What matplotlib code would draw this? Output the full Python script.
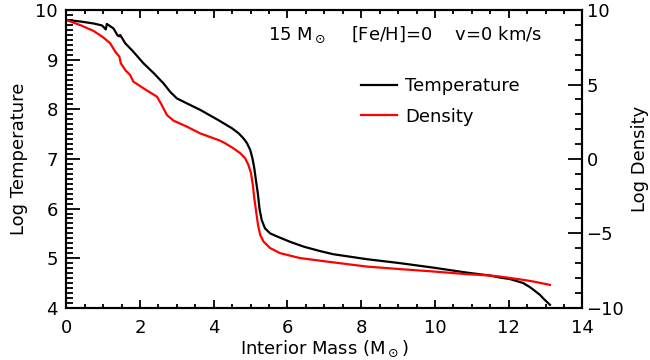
import matplotlib
matplotlib.use("Agg")
import matplotlib.pyplot as plt
from matplotlib.ticker import MultipleLocator

# temperature profile (log T vs interior mass)
mass_t = [0.00, 0.38, 0.74, 0.97, 1.07, 1.10, 1.28, 1.39, 1.44, 1.46, 1.60, 1.82,
          2.09, 2.37, 2.64, 2.82, 3.00, 3.27, 3.63, 4.13, 4.31, 4.49, 4.67, 4.80,
          4.90, 4.99, 5.05, 5.10, 5.15, 5.20, 5.24, 5.30, 5.39, 5.53, 5.71, 6.07,
          6.45, 6.90, 7.24, 8.15, 9.05, 9.95, 10.86, 11.49, 11.76, 12.03, 12.21,
          12.39, 12.57, 12.66, 12.85, 12.95, 13.12]
log_t = [9.80, 9.77, 9.73, 9.69, 9.61, 9.72, 9.63, 9.49, 9.47, 9.50, 9.33, 9.16,
         8.93, 8.73, 8.52, 8.35, 8.22, 8.12, 7.99, 7.78, 7.70, 7.62, 7.52, 7.42,
         7.32, 7.18, 7.01, 6.81, 6.54, 6.28, 6.00, 5.77, 5.60, 5.50, 5.44, 5.33,
         5.23, 5.14, 5.08, 4.98, 4.90, 4.81, 4.71, 4.65, 4.61, 4.58, 4.54,
         4.50, 4.42, 4.37, 4.26, 4.18, 4.06]

# density profile (log rho vs interior mass)
mass_d = [0.00, 0.38, 0.74, 1.01, 1.19, 1.33, 1.44, 1.48, 1.60, 1.73, 1.82, 2.09,
          2.46, 2.59, 2.73, 2.91, 3.27, 3.63, 4.17, 4.31, 4.53, 4.72, 4.85, 4.94,
          5.01, 5.06, 5.10, 5.15, 5.20, 5.26, 5.35, 5.44, 5.53, 5.80, 6.34, 7.15,
          8.15, 9.05, 9.95, 10.86, 11.49, 11.76, 12.39, 12.66, 13.12]
log_rho = [9.33, 8.99, 8.60, 8.15, 7.77, 7.20, 6.87, 6.42, 5.97, 5.64, 5.19, 4.75,
           4.18, 3.62, 2.95, 2.57, 2.17, 1.72, 1.23, 1.05, 0.72, 0.38, 0.05, -0.40,
           -0.96, -1.74, -2.64, -3.54, -4.43, -5.10, -5.55, -5.77, -5.99, -6.33, -6.66, -6.92,
           -7.23, -7.40, -7.56, -7.74, -7.83, -7.90, -8.12, -8.23, -8.46]

plt.rcParams['font.family'] = 'DejaVu Sans'
plt.rcParams['font.size'] = 13

fig = plt.figure(figsize=(6.5, 3.6), dpi=100)
ax = fig.add_axes([0.102, 0.145, 0.794, 0.827])
ax2 = ax.twinx()

ax.plot(mass_t, log_t, color='black', lw=1.6, label='Temperature')
ax2.plot(mass_d, log_rho, color='red', lw=1.6, label='Density')

ax.set_xlim(0, 14)
ax.set_ylim(4, 10)
ax2.set_ylim(-10, 10)

ax.xaxis.set_major_locator(MultipleLocator(2))
ax.xaxis.set_minor_locator(MultipleLocator(0.5))
ax.yaxis.set_major_locator(MultipleLocator(1))
ax.yaxis.set_minor_locator(MultipleLocator(0.1))
ax2.yaxis.set_major_locator(MultipleLocator(5))
ax2.yaxis.set_minor_locator(MultipleLocator(1))

ax.tick_params(which='both', direction='in', top=True, right=False, width=1.3)
ax.tick_params(axis='x', which='major', length=6, pad=8)
ax.tick_params(axis='x', which='minor', length=3)
ax.tick_params(axis='y', which='major', length=10, pad=6)
ax.tick_params(axis='y', which='minor', length=5)
ax2.tick_params(which='both', direction='in', width=1.3)
ax2.tick_params(which='major', length=10, pad=3)
ax2.tick_params(which='minor', length=5)
for a in (ax, ax2):
    for s in a.spines.values():
        s.set_linewidth(1.5)

ax.set_xlabel(r'Interior Mass (M$_\odot$)', labelpad=1)
ax.set_ylabel('Log Temperature', labelpad=5)
ax2.set_ylabel('Log Density', rotation=90, labelpad=5)

ax.text(0.39, 0.916, r'15 M$_\odot$    [Fe/H]=0    v=0 km/s', transform=ax.transAxes,
        ha='left', va='center')

handles = ax.get_lines() + ax2.get_lines()
ax.legend(handles, [h.get_label() for h in handles], frameon=False,
          loc='upper left', bbox_to_anchor=(0.571, 0.775), borderpad=0,
          borderaxespad=0, handlelength=2.0, handletextpad=0.45,
          labelspacing=0.7, fontsize=13)

fig.savefig('out.png', dpi=100)
